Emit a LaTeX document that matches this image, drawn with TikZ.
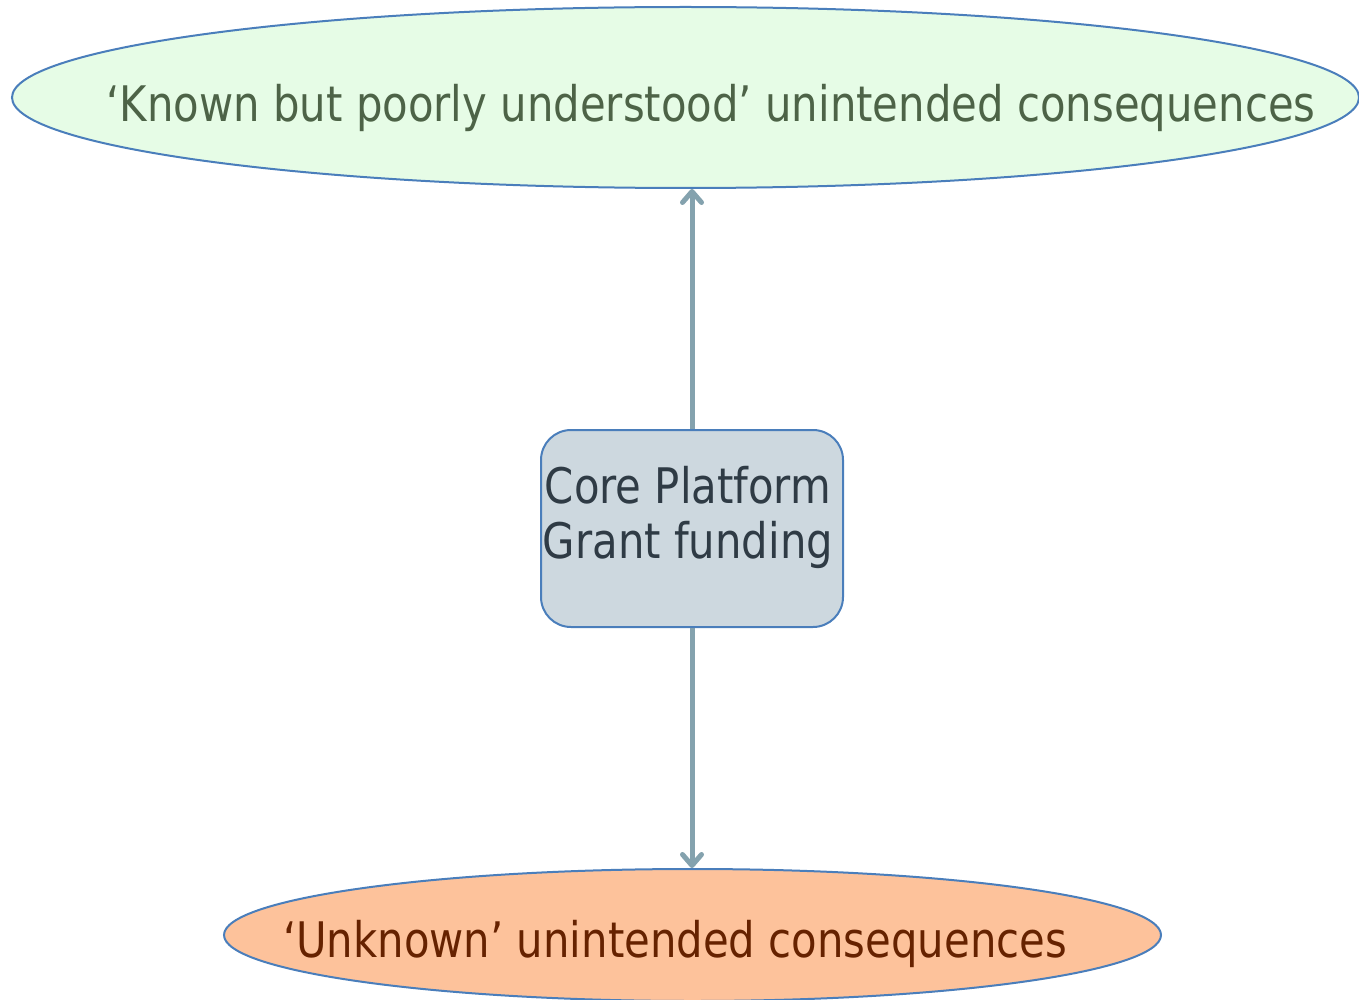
\documentclass[tikz,border=0pt]{standalone}
\usepackage{fontspec}
\setmainfont[FakeStretch=0.853]{DejaVu Sans}
\usetikzlibrary{shapes.geometric,arrows.meta}
\definecolor{edgeblue}{HTML}{4A7EBB}
\definecolor{topfill}{HTML}{E6FCE6}
\definecolor{toptext}{HTML}{4D6347}
\definecolor{botfill}{HTML}{FDC29B}
\definecolor{bottext}{HTML}{662200}
\definecolor{boxfill}{HTML}{CDD8DF}
\definecolor{boxtext}{HTML}{2F3B45}
\definecolor{arrowc}{HTML}{84A2AE}
\tikzset{
  oval/.style={ellipse, draw=edgeblue, line width=2pt, inner sep=0pt},
  corebox/.style={rectangle, rounded corners=30pt, draw=edgeblue, line width=2pt, fill=boxfill, inner sep=0pt, minimum width=302pt, minimum height=197pt},
  lbl/.style={font=\fontsize{49}{55}\selectfont, inner sep=0pt},
  link/.style={draw=arrowc, line width=5pt, -{Straight Barb[length=11pt,width=19pt,line cap=round,line join=round]}}
}
\begin{document}
\begin{tikzpicture}[x=1pt,y=-1pt]
\useasboundingbox (0,0) rectangle (1359,1000);
\node[oval, fill=topfill, minimum width=1347pt, minimum height=181pt] (top) at (685.5,97.5) {};
\node[lbl, text=toptext, anchor=base] (toplbl) at (711,122) {‘Known but poorly understood’ unintended consequences};
\node[oval, fill=botfill, minimum width=937pt, minimum height=132pt] (bot) at (692.5,935) {};
\node[lbl, text=bottext, anchor=base] (botlbl) at (675,957) {‘Unknown’ unintended consequences};
\node[corebox] (core) at (692,528.5) {};
\node[lbl, text=boxtext, align=center, anchor=north] (corelbl) at (688,466) {Core Platform\\Grant funding};
\draw[link] (core.north) -- (core.north |- top.south);
\draw[link] (core.south) -- (core.south |- bot.north);
\end{tikzpicture}
\end{document}
